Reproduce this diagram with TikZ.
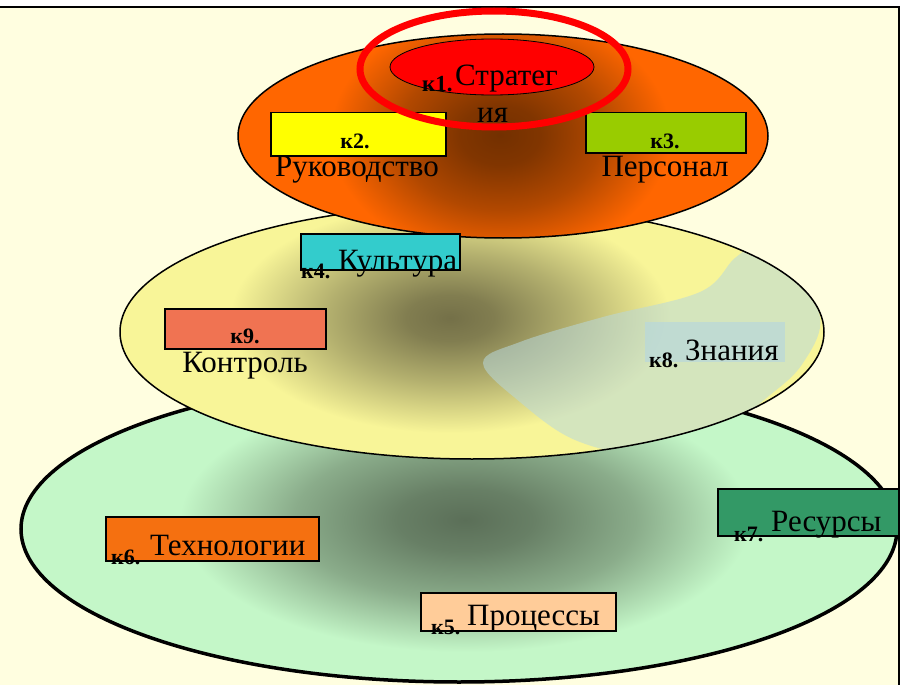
\documentclass[tikz,border=0pt]{standalone}
\usepackage{fontspec}
\setmainfont{Liberation Serif}
\usetikzlibrary{shapes.geometric}

\definecolor{cream}{HTML}{FFFEE0}
\definecolor{gskin}{HTML}{C4F7C8}
\definecolor{gcore}{HTML}{5B6F58}
\definecolor{yskin}{HTML}{F8F598}
\definecolor{ycore}{HTML}{747048}
\definecolor{oskin}{HTML}{FF6600}
\definecolor{ocore}{HTML}{733000}
\definecolor{haze}{HTML}{B8D8DC}
\definecolor{boxyellow}{HTML}{FFFF00}
\definecolor{boxlime}{HTML}{99CC00}
\definecolor{boxcyan}{HTML}{33CCCC}
\definecolor{boxsalmon}{HTML}{F07352}
\definecolor{boxorange}{HTML}{F57010}
\definecolor{boxgreen}{HTML}{339966}
\definecolor{boxpeach}{HTML}{FFCC99}

% glows that end (at 25bp, the rim of the shaded path) in the fill colour of their level
\pgfdeclareradialshading{greenglow}{\pgfpoint{0bp}{0bp}}{color(0bp)=(gcore); color(6bp)=(gcore!88!gskin); color(15bp)=(gcore!55!gskin); color(25bp)=(gskin); color(50bp)=(gskin)}
\pgfdeclareradialshading{yellowglow}{\pgfpoint{0bp}{0bp}}{color(0bp)=(ycore); color(5bp)=(ycore!90!yskin); color(14bp)=(ycore!52!yskin); color(25bp)=(yskin); color(50bp)=(yskin)}
\pgfdeclareradialshading{orangeglow}{\pgfpoint{0bp}{0bp}}{color(0bp)=(ocore); color(6bp)=(ocore!90!oskin); color(15bp)=(ocore!55!oskin); color(25bp)=(oskin); color(50bp)=(oskin)}

\tikzset{
  ring/.style={ellipse, inner sep=0pt},
  kbox/.style={draw=black, line width=1.5pt, inner sep=0pt, anchor=north west},
  tag/.style={font=\fontsize{22}{24}\selectfont\bfseries, inner sep=0pt},
  word/.style={font=\fontsize{31}{33}\selectfont, inner sep=0pt},
}

\begin{document}
\begin{tikzpicture}[x=1pt,y=-1pt]
\useasboundingbox (0,0) rectangle (906,685);
\fill[white] (0,0) rectangle (906,685);
\fill[cream] (0,7) rectangle (899,685);
\draw[line width=2pt] (0,7) -- (899,7) -- (899,685);

% lower level
\node[ring, fill=gskin, minimum width=876pt, minimum height=306pt] (base) at (459,529) {};
\begin{scope}
  \clip (459,529) ellipse [x radius=438pt, y radius=153pt];
  \shade[shading=greenglow] (465,520) ellipse [x radius=285pt, y radius=132pt];
\end{scope}
\draw[line width=3.5pt] (459,529) ellipse [x radius=438pt, y radius=153pt];

% middle level
\node[ring, fill=yskin, minimum width=704pt, minimum height=254pt] (middle) at (472,332) {};
\begin{scope}
  \clip (472,332) ellipse [x radius=352pt, y radius=127pt];
  \shade[shading=yellowglow] (450,318) ellipse [x radius=220pt, y radius=115pt];
  % soft bluish patch
  \fill[haze, opacity=0.55] plot[smooth cycle, tension=0.6] coordinates {
    (483,363) (520,342) (603,317) (700,292) (735,258) (760,245) (787,262)
    (820,317) (803,363) (770,395) (720,430) (640,452) (575,440) (520,402)};
\end{scope}
\draw[line width=1.5pt] (472,332) ellipse [x radius=352pt, y radius=127pt];

% top level
\node[ring, fill=oskin, minimum width=530pt, minimum height=204pt] (top) at (503,136) {};
\begin{scope}
  \clip (503,136) ellipse [x radius=265pt, y radius=102pt];
  \shade[shading=orangeglow] (500,135) ellipse [x radius=170pt, y radius=125pt];
\end{scope}
\draw[line width=1.5pt] (503,136) ellipse [x radius=265pt, y radius=102pt];
\node[ring, draw, line width=0.8pt, fill=red, minimum width=204pt, minimum height=56pt] (core) at (492,67) {};

% boxes
\node[kbox, fill=boxyellow, minimum width=175pt, minimum height=43pt] (b2) at (270,112) {};
\node[kbox, fill=boxlime, minimum width=160pt, minimum height=40pt] (b3) at (585,112) {};
\node[kbox, fill=boxcyan, minimum width=159pt, minimum height=36pt] (b4) at (300,233) {};
\node[kbox, fill=boxsalmon, minimum width=161pt, minimum height=40pt] (b9) at (164,308) {};
\node[anchor=north west, fill=haze, fill opacity=0.7, inner sep=0pt, minimum width=140pt, minimum height=40pt] (b8) at (645,322) {};
\node[kbox, fill=boxorange, minimum width=213pt, minimum height=44pt] (b6) at (105,516) {};
\node[kbox, fill=boxgreen, minimum width=181pt, minimum height=47pt] (b7) at (717,488) {};
\node[kbox, fill=boxpeach, minimum width=195pt, minimum height=38pt] (b5) at (420,592) {};

% labels
\node[tag, font=\fontsize{23}{25}\selectfont\bfseries, anchor=base west] (t1) at (422,92) {к1.};
\node[word, anchor=base west] (w1a) at (455,85) {Стратег};
\node[word, anchor=base west] (w1b) at (477,122) {ия};
\node[tag, anchor=base] (t2) at (355,148) {к2.};
\node[word, anchor=base] (w2) at (357,176) {Руководство};
\node[tag, anchor=base] (t3) at (665,148) {к3.};
\node[word, anchor=base] (w3) at (665,176) {Персонал};
\node[tag, anchor=base west] (t4) at (301,278) {к4.};
\node[word, anchor=base west] (w4) at (338,270) {Культура};
\node[tag, anchor=base] (t9) at (245,343) {к9.};
\node[word, anchor=base] (w9) at (245,372) {Контроль};
\node[tag, anchor=base west] (t8) at (649,367) {к8.};
\node[word, anchor=base west] (w8) at (685,360) {Знания};
\node[tag, anchor=base west] (t6) at (111,564) {к6.};
\node[word, anchor=base west] (w6) at (150,555) {Технологии};
\node[tag, anchor=base west] (t7) at (734,541) {к7.};
\node[word, anchor=base west] (w7) at (771,531) {Ресурсы};
\node[tag, anchor=base west] (t5) at (431,634) {к5.};
\node[word, anchor=base west] (w5) at (467,625) {Процессы};

% highlight ring round the top goal
\node[ring, draw=red, line width=7pt, minimum width=268pt, minimum height=116pt] (mark) at (494,69) {};
\end{tikzpicture}
\end{document}
